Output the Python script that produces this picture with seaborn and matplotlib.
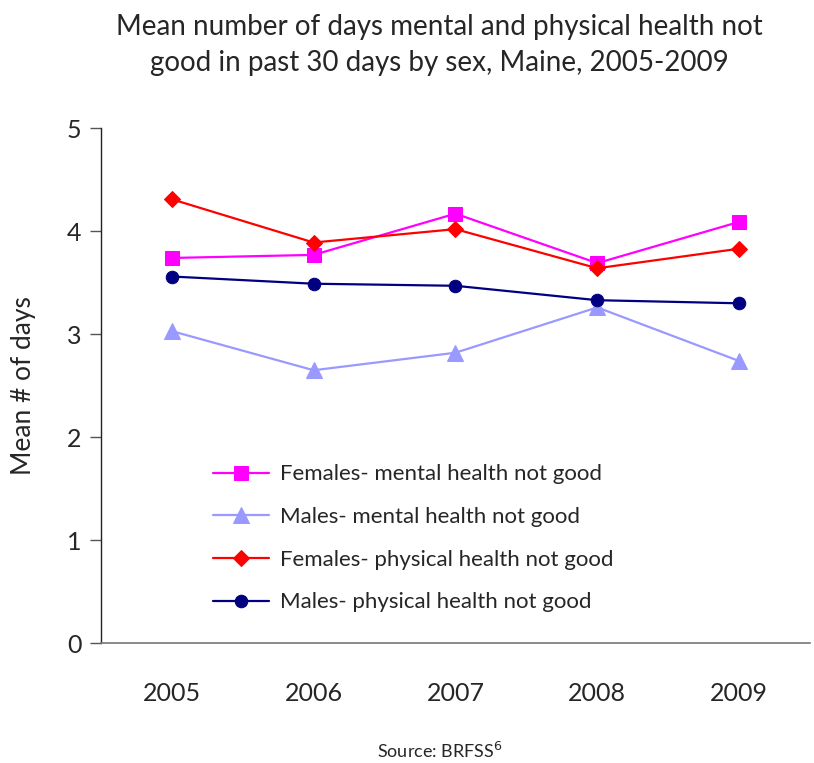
import matplotlib
matplotlib.use("Agg")
import matplotlib.pyplot as plt
import seaborn as sns
import pandas as pd
import numpy as np

years = ["2005", "2006", "2007", "2008", "2009"]
series_names = [
    "Females- mental health not good",
    "Males- mental health not good",
    "Females- physical health not good",
    "Males- physical health not good",
]
females_mental = [3.74, 3.77, 4.17, 3.69, 4.09]
males_mental = [3.03, 2.65, 2.82, 3.26, 2.74]
females_physical = [4.31, 3.89, 4.02, 3.64, 3.83]
males_physical = [3.56, 3.49, 3.47, 3.33, 3.30]

colors = ["#FF00FF", "#9999FF", "#FF0000", "#000080"]
markers = ["s", "^", "D", "o"]
msizes = [10, 11, 8, 9]

sns.set_style("white")
plt.rcParams["font.family"] = ["Lato", "DejaVu Sans"]

rows = []
for name, vals in zip(series_names, [females_mental, males_mental, females_physical, males_physical]):
    for i, (y, v) in enumerate(zip(years, vals)):
        rows.append({"pos": i, "year": y, "value": v, "series": name})
df = pd.DataFrame(rows)

fig = plt.figure(figsize=(8.14, 7.63), dpi=100)
ax = fig.add_axes([0.124, 0.157, 0.871, 0.675])

for name, c, m, ms in zip(series_names, colors, markers, msizes):
    sub = df[df["series"] == name]
    sns.lineplot(data=sub, x="pos", y="value", ax=ax, color=c, marker=m,
                 markersize=ms, markeredgecolor=c, linewidth=1.6, label=name)

ax.set_xlim(-0.5, 4.5)
ax.set_ylim(0, 5)
ax.set_xticks(range(len(years)))
ax.set_xticklabels(years, fontsize=18)
ax.set_xticks(np.arange(-0.5, 5.0, 1.0), minor=True)
ax.tick_params(axis="x", which="major", length=0, pad=28)
ax.tick_params(axis="x", which="minor", length=10, width=1, color="#555555", direction="out")
ax.set_yticks(range(0, 6))
ax.set_yticklabels([str(v) for v in range(0, 6)], fontsize=18)
ax.tick_params(axis="y", which="major", length=8, width=1, color="#555555", direction="out", left=True, pad=6)
ax.set_xlabel("")
ax.set_ylabel("Mean # of days", fontsize=19, labelpad=22)

for s in ["top", "right"]:
    ax.spines[s].set_visible(False)
ax.spines["left"].set_color("#222222")
ax.spines["bottom"].set_color("#777777")
ax.spines["left"].set_linewidth(1)
ax.spines["bottom"].set_linewidth(1.2)

leg = ax.legend(loc="upper left", bbox_to_anchor=(0.13, 0.386), frameon=False,
                fontsize=16, handlelength=2.5, labelspacing=1.02, handletextpad=0.5)

fig.text(0.54, 0.982, "Mean number of days mental and physical health not\ngood in past 30 days by sex, Maine, 2005-2009",
         ha="center", va="top", fontsize=20, linespacing=1.5)
fig.text(0.54, 0.003, r"Source: BRFSS$^{6}$", ha="center", va="bottom", fontsize=13)

fig.savefig("out.png", dpi=100)
